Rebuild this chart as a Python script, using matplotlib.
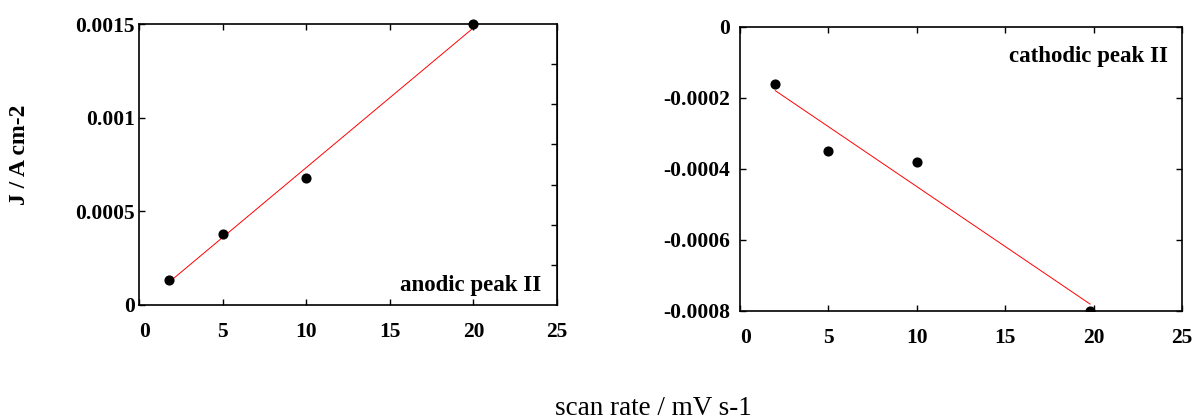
import numpy as np
import matplotlib.pyplot as plt

plt.rcParams['font.family'] = ['Liberation Serif', 'DejaVu Serif']

# scan rate (mV/s) and peak current density (A/cm2)
anodic_rate = [1.8, 5, 10, 20]
anodic_j = [0.000135, 0.00038, 0.00068, 0.0015]
cathodic_rate = [2, 5, 10, 19.8]
cathodic_j = [-0.00016, -0.00035, -0.00038, -0.0008]

anodic_yticks = [0, 0.0005, 0.001, 0.0015]
anodic_ylabels = ['0', '0.0005', '0.001', '0.0015']
cathodic_yticks = [-0.0008, -0.0006, -0.0004, -0.0002, 0]
cathodic_ylabels = ['-0.0008', '-0.0006', '-0.0004', '-0.0002', '0']
xticks = [0, 5, 10, 15, 20, 25]

fig = plt.figure(figsize=(11.95, 4.19), dpi=100)
ax1 = fig.add_axes([0.1163, 0.2721, 0.3498, 0.6706])
ax2 = fig.add_axes([0.6192, 0.2578, 0.3699, 0.6778])


def draw_panel(ax, x, y, yticks, ylabels, ypad, clip=True):
    ax.plot(x, y, 'o', color='black', markersize=6.3, zorder=3, clip_on=clip)
    # least-squares line over the measured range
    k, b = np.polyfit(x, y, 1)
    xf = np.array([min(x), max(x)])
    ax.plot(xf, k * xf + b, '-', color='red', linewidth=0.7, zorder=2)
    ax.set_xlim(0, 25)
    ax.set_ylim(yticks[0], yticks[-1])
    ax.set_xticks(xticks)
    ax.set_xticklabels([str(t) for t in xticks], fontweight='bold', fontsize=15.5)
    ax.set_yticks(yticks)
    ax.set_yticklabels(ylabels, fontweight='bold', fontsize=15.5)
    ax.tick_params(direction='in', length=4, width=1, top=True)
    ax.tick_params(axis='x', pad=12)
    ax.tick_params(axis='y', pad=ypad)
    ax.xaxis.get_majorticklabels()[0].set_horizontalalignment('left')
    for s in ax.spines.values():
        s.set_linewidth(1.2)


draw_panel(ax1, anodic_rate, anodic_j, anodic_yticks, anodic_ylabels, 3, clip=False)
draw_panel(ax2, cathodic_rate, cathodic_j, cathodic_yticks, cathodic_ylabels, 7)

# extra unlabeled ticks on the right spine of the anodic panel
sec = ax1.secondary_yaxis('right')
sec.set_yticks(np.arange(1, 7) * 0.0015 / 7)
sec.set_yticklabels([])
sec.tick_params(direction='in', length=4, width=1)

ax2.tick_params(right=True)

ax1.text(0.962, 0.07, 'anodic peak II', transform=ax1.transAxes,
         ha='right', va='center', fontsize=16.5, fontweight='bold')
ax2.text(0.968, 0.895, 'cathodic peak II', transform=ax2.transAxes,
         ha='right', va='center', fontsize=16.5, fontweight='bold')

fig.text(20 / 1195, 1 - 155 / 419, 'J / A cm-2', rotation=90,
         ha='center', va='center', fontsize=17, fontweight='bold')
fig.text(653 / 1195, 1 - 408 / 419, 'scan rate / mV s-1',
         ha='center', va='center', fontsize=19.5)

fig.savefig('out.png', dpi=100)
